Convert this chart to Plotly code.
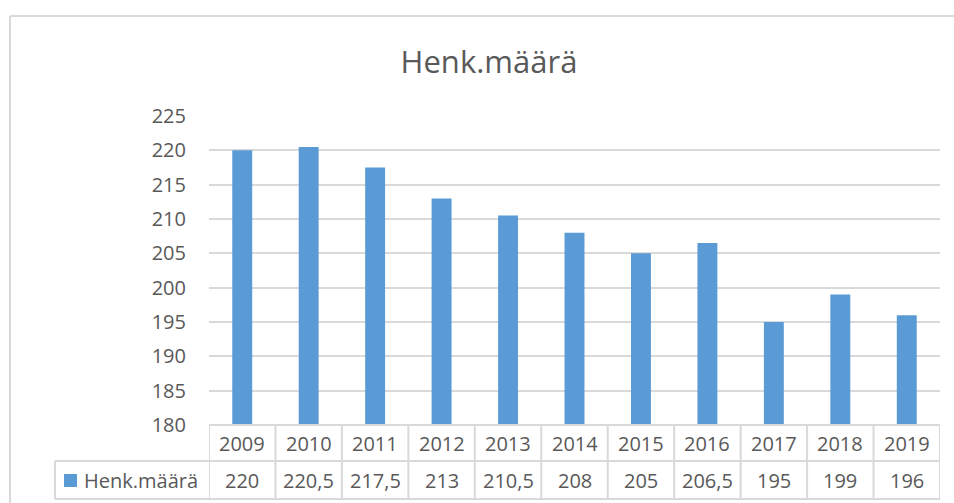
import plotly.graph_objects as go

years = ["2009", "2010", "2011", "2012", "2013", "2014", "2015", "2016", "2017", "2018", "2019"]
values = [220, 220.5, 217.5, 213, 210.5, 208, 205, 206.5, 195, 199, 196]
value_labels = ["220", "220,5", "217,5", "213", "210,5", "208", "205", "206,5", "195", "199", "196"]
series_name = "Henk.määrä"
y_ticks = [180, 185, 190, 195, 200, 205, 210, 215, 220, 225]

W, H = 954, 503
L, R, T, B = 209, 14, 116, 78
plot_h = H - T - B
plot_w = W - L - R
FONT = "Open Sans"
TXT = "#595959"
GRID = "#D9D9D9"
BAR = "#5B9BD5"

def py(pix):
    # pixel y (from top) -> paper y
    return (H - B - pix) / plot_h

def px(pix):
    return (pix - L) / plot_w

fig = go.Figure()
fig.add_trace(go.Bar(x=years, y=values, marker=dict(color=BAR, line=dict(width=0)),
                     width=0.3, name=series_name, showlegend=False, hoverinfo="skip"))

shapes = []
# chart outer border (left and top)
shapes.append(dict(type="line", xref="paper", yref="paper", x0=px(10), x1=px(10), y0=py(16), y1=py(503),
                   line=dict(color=GRID, width=2)))
shapes.append(dict(type="line", xref="paper", yref="paper", x0=px(10), x1=px(954), y0=py(16), y1=py(16),
                   line=dict(color=GRID, width=2)))
# data table
row1, row2, row3 = 425, 461, 499
shapes.append(dict(type="line", xref="paper", yref="paper", x0=0, x1=1, y0=py(row1), y1=py(row1),
                   line=dict(color=GRID, width=2)))
for yy in (row2, row3):
    shapes.append(dict(type="line", xref="paper", yref="paper", x0=px(55), x1=1, y0=py(yy), y1=py(yy),
                       line=dict(color=GRID, width=2)))
shapes.append(dict(type="line", xref="paper", yref="paper", x0=px(55), x1=px(55), y0=py(row2), y1=py(row3),
                   line=dict(color=GRID, width=2)))
for k in range(len(years) + 1):
    shapes.append(dict(type="line", xref="x", yref="paper", x0=k - 0.5, x1=k - 0.5, y0=py(row1), y1=py(row3),
                       line=dict(color=GRID, width=2)))
# legend key square
shapes.append(dict(type="rect", xref="paper", yref="paper", x0=px(64), x1=px(77), y0=py(474), y1=py(487),
                   fillcolor=BAR, line=dict(width=0)))

annotations = []
for i, (yr, vl) in enumerate(zip(years, value_labels)):
    annotations.append(dict(x=i, xref="x", y=py((row1 + row2) / 2), yref="paper", text=yr, showarrow=False,
                            font=dict(family=FONT, size=20, color=TXT), xanchor="center", yanchor="middle"))
    annotations.append(dict(x=i, xref="x", y=py((row2 + row3) / 2), yref="paper", text=vl, showarrow=False,
                            font=dict(family=FONT, size=20, color=TXT), xanchor="center", yanchor="middle"))
annotations.append(dict(x=px(82), xref="paper", y=py((row2 + row3) / 2), yref="paper", text=series_name,
                        showarrow=False, font=dict(family=FONT, size=20, color=TXT), xanchor="left", yanchor="middle"))

fig.update_layout(
    width=W, height=H,
    margin=dict(l=L, r=R, t=T, b=B, autoexpand=False),
    paper_bgcolor="white", plot_bgcolor="white",
    title=dict(text="Henk.määrä", x=489 / W, xanchor="center", y=1 - 62 / H, yanchor="middle",
               font=dict(family=FONT, size=31, color=TXT)),
    xaxis=dict(showticklabels=False, showgrid=False, zeroline=False, showline=False, ticks="",
               range=[-0.5, len(years) - 0.5], fixedrange=True),
    yaxis=dict(range=[180, 225], tickvals=y_ticks, showgrid=True, gridcolor=GRID, gridwidth=2,
               zeroline=False, showline=False, ticks="", ticklabelstandoff=22, fixedrange=True,
               tickfont=dict(family=FONT, size=20, color=TXT)),
    shapes=shapes, annotations=annotations, bargap=0.7, hovermode=False,
)
fig.write_html("out.html", config={"displayModeBar": False, "staticPlot": True},
               post_script="document.body.style.margin='0';document.body.style.overflow='hidden';")
